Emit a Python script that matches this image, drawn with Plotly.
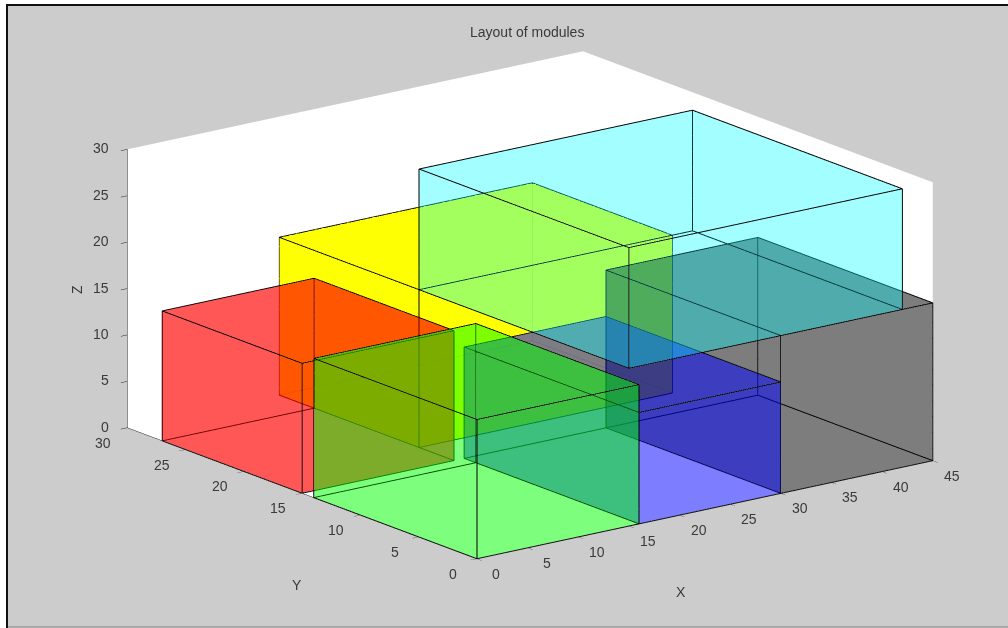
import math
import plotly.graph_objects as go

# box extents, drawn back to front
names = ["yellow", "gray", "red", "blue", "green", "cyan"]
x0 = [15, 30, 0, 16, 0, 15]
x1 = [40, 45, 15, 30, 16, 42]
y0 = [18, 0, 15, 0, 0, 0]
y1 = [30, 15, 27, 15, 14, 18]
z0 = [0, 0, 0, 0, 0, 17]
z1 = [17, 17, 14, 12, 15, 30]
colors = ["#ffff00", "#000000", "#ff0000", "#0000ff", "#00ff00", "#00ffff"]
opacities = [0.9, 0.3, 0.42, 0.3, 0.3, 0.2]
x_ticks = [0, 5, 10, 15, 20, 25, 30, 35, 40, 45]
y_ticks = [0, 5, 10, 15, 20, 25, 30]
z_ticks = [0, 5, 10, 15, 20, 25, 30]

FONT = dict(family="Liberation Sans", size=14, color="#3a3a3a")
fig = go.Figure()
I = [0, 0, 4, 4, 0, 0, 3, 3, 0, 0, 1, 1]
J = [1, 2, 5, 6, 1, 5, 2, 6, 3, 7, 2, 6]
K = [2, 3, 6, 7, 5, 4, 6, 7, 7, 4, 6, 5]
EDGES = [0, 1, 2, 3, 0, 4, 5, 6, 7, 4, None, 1, 5, None, 2, 6, None, 3, 7]
for n, a, b, c, d, e, f, col, op in zip(names, x0, x1, y0, y1, z0, z1, colors, opacities):
    vx = [a, b, b, a, a, b, b, a]
    vy = [c, c, d, d, c, c, d, d]
    vz = [e, e, e, e, f, f, f, f]
    fig.add_trace(go.Mesh3d(x=vx, y=vy, z=vz, i=I, j=J, k=K, color=col, opacity=op,
                            flatshading=True, name=n, showlegend=False, hoverinfo="skip",
                            lighting=dict(ambient=1, diffuse=0, specular=0, roughness=1, fresnel=0)))
    fig.add_trace(go.Scatter3d(x=[None if q is None else vx[q] for q in EDGES],
                               y=[None if q is None else vy[q] for q in EDGES],
                               z=[None if q is None else vz[q] for q in EDGES],
                               mode="lines", line=dict(color="black", width=2),
                               showlegend=False, hoverinfo="skip"))

a = math.radians(37.16)
e = math.radians(16.49)
R = 2.0
eye = dict(x=-math.sin(a) * math.cos(e) * R, y=-math.cos(a) * math.cos(e) * R, z=math.sin(e) * R)

def axis(ticks, rng):
    return dict(title=dict(text=""), tickvals=ticks, range=rng, autorange=False, showgrid=False,
                zeroline=False, showbackground=True, backgroundcolor="white", showspikes=False,
                showline=True, linecolor="#222222", linewidth=1, showticklabels=False,
                ticks="outside", ticklen=8, tickcolor="#222222", tickwidth=1)

labels = []
for t in x_ticks:
    labels.append(dict(x=t, y=0, z=0, text=str(t), showarrow=False, xshift=19, yshift=-15, font=FONT))
for t in y_ticks:
    labels.append(dict(x=0, y=t, z=0, text=str(t), showarrow=False, xshift=-24, yshift=-15, font=FONT))
for t in z_ticks:
    labels.append(dict(x=0, y=30, z=t, text=str(t), showarrow=False, xanchor="right", xshift=-16, yshift=1, font=FONT))

fig.update_layout(
    width=1008, height=628, margin=dict(l=0, r=0, t=0, b=0),
    paper_bgcolor="#cccccc",
    scene=dict(
        xaxis=axis(x_ticks, [0, 45]),
        yaxis=axis(y_ticks, [0, 30]),
        zaxis=axis(z_ticks, [0, 30]),
        aspectmode="manual", aspectratio=dict(x=1.875, y=1.898, z=0.952),
        camera=dict(eye=eye, projection=dict(type="orthographic"), up=dict(x=0, y=0, z=1)),
        domain=dict(x=[52 / 1008, 1], y=[18 / 628, 1]),
        annotations=labels,
    ),
)

def px(x, y, text, angle=0):
    fig.add_annotation(text=text, x=x / 1008, y=1 - y / 628, xref="paper", yref="paper",
                       xanchor="center", yanchor="middle",
                       showarrow=False, textangle=angle, font=FONT)

px(527, 32, "Layout of modules")
px(297, 585, "Y")
px(681, 592, "X")
px(77, 290, "Z", -90)

def band(x_a, y_a, x_b, y_b, col):
    fig.add_shape(type="rect", xref="paper", yref="paper", x0=x_a / 1008, x1=x_b / 1008,
                  y0=1 - y_a / 628, y1=1 - y_b / 628, fillcolor=col, line_width=0, layer="above")

band(0, 0, 1008, 4, "white")
band(0, 0, 6, 628, "white")
band(6, 4, 1008, 6, "#111111")
band(6, 4, 8, 628, "#111111")
band(8, 626, 1008, 628, "#aaaaaa")

fig.write_html("out.html", config=dict(displayModeBar=False),
               post_script="document.body.style.margin='0';document.body.style.overflow='hidden';")
